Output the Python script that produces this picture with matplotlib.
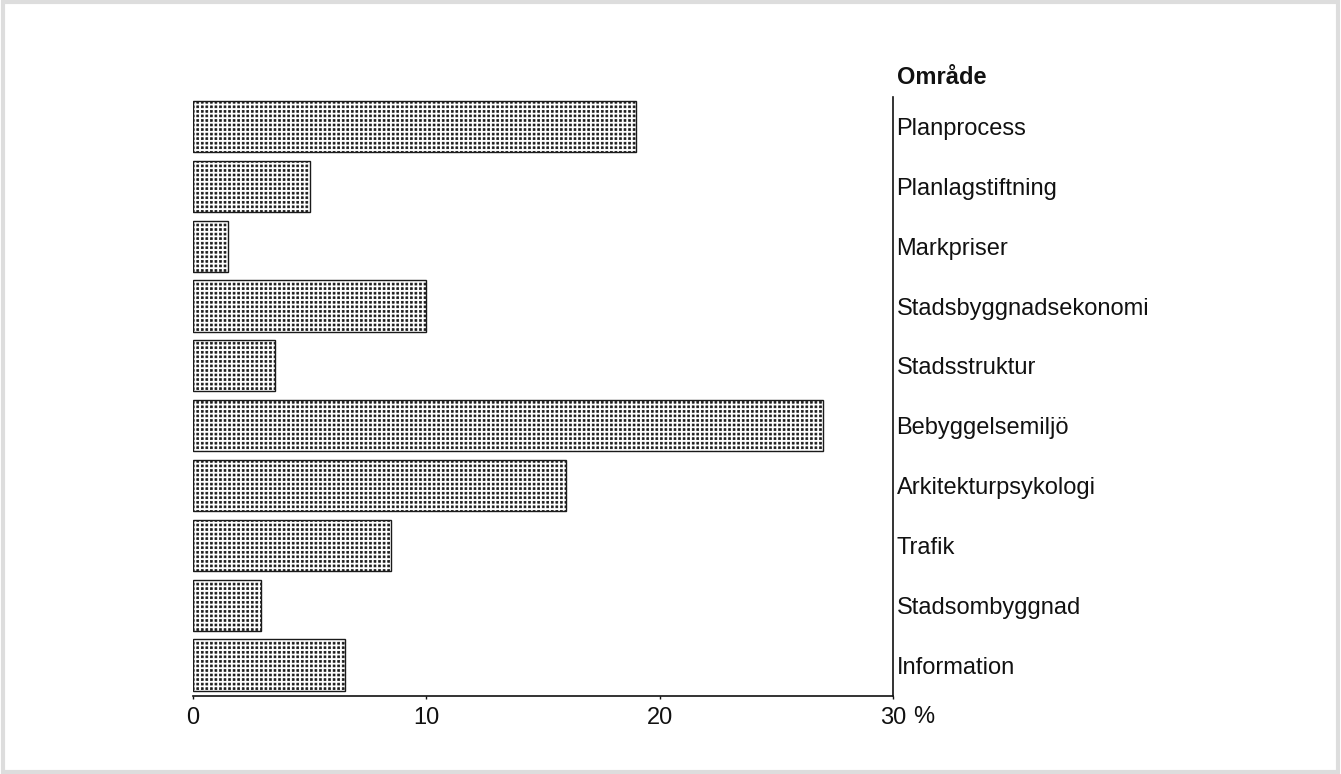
import numpy as np
import matplotlib.pyplot as plt
import matplotlib.hatch as mhatch
from matplotlib.path import Path
from matplotlib.patches import Rectangle

# Data (percent per area)
areas = ['Planprocess', 'Planlagstiftning', 'Markpriser', 'Stadsbyggnadsekonomi',
         'Stadsstruktur', 'Bebyggelsemiljö', 'Arkitekturpsykologi', 'Trafik',
         'Stadsombyggnad', 'Information']
shares = [19, 5, 1.5, 10, 3.5, 27, 16, 8.5, 2.9, 6.5]
xticks = [0, 10, 20, 30]
xtick_labels = ['0', '10', '20', '30']


# square grid of small filled dots, like the printed screen tone
class GridDots(mhatch.HatchPatternBase):
    def __init__(self, hatch, density):
        self.n = 22 if '.' in hatch else 0
        self.num_vertices = self.n * self.n * 5

    def set_vertices_and_codes(self, vertices, codes):
        n = self.n
        c = (np.arange(n) + 0.5) / n
        h = 0.21 / n
        cx, cy = np.meshgrid(c, c)
        centers = np.stack([cx.ravel(), cy.ravel()], axis=1)
        sq = np.array([[-h, -h], [h, -h], [h, h], [-h, h], [-h, -h]])
        vertices[:] = (centers[:, None, :] + sq[None]).reshape(-1, 2)
        codes[:] = np.tile([Path.MOVETO, Path.LINETO, Path.LINETO,
                            Path.LINETO, Path.CLOSEPOLY], n * n)


mhatch._hatch_types = [t for t in mhatch._hatch_types
                       if t is not mhatch.SmallFilledCircles] + [GridDots]

plt.rcParams['font.family'] = ['Liberation Sans', 'DejaVu Sans']
plt.rcParams['hatch.linewidth'] = 0.5

fig = plt.figure(figsize=(13.41, 7.74), dpi=100)
ax = fig.add_axes([193 / 1341, 1 - 696 / 774, 700 / 1341, 599 / 774])

ypos = list(range(len(areas)))
ax.barh(ypos, shares, height=0.853, left=0, color='white', edgecolor='#1a1a1a',
        linewidth=1.0, hatch='.', align='center')

ax.set_xlim(0, 30)
ax.set_ylim(9.518, -0.493)

# only the bottom and right lines are drawn
ax.spines['top'].set_visible(False)
ax.spines['left'].set_visible(False)
for s in ('bottom', 'right'):
    ax.spines[s].set_linewidth(1.2)
    ax.spines[s].set_color('#111111')

ax.set_xticks(xticks)
ax.set_xticklabels(xtick_labels, fontsize=17)
ax.tick_params(axis='x', direction='out', length=2, width=1, pad=6, colors='#111111')

ax.yaxis.tick_right()
ax.set_yticks(ypos)
ax.set_yticklabels(areas, fontsize=17)
ax.tick_params(axis='y', length=0, pad=2.5, colors='#111111')

# unit after the last tick label
ax.annotate('%', xy=(30, 0), xycoords=('data', 'axes fraction'),
            xytext=(14.5, -7.4), textcoords='offset points', ha='left', va='top',
            fontsize=17, color='#111111')

# header above the labels
fig.text(897 / 1341, 1 - 78 / 774, 'Område', ha='left', va='center',
         fontsize=17, fontweight='bold', color='#111111')

# faint scanned frame
fig.patches.append(Rectangle((0.002, 0.003), 0.996, 0.994, transform=fig.transFigure,
                             fill=False, edgecolor='#dddddd', linewidth=3))

fig.savefig('out.png', dpi=100)
